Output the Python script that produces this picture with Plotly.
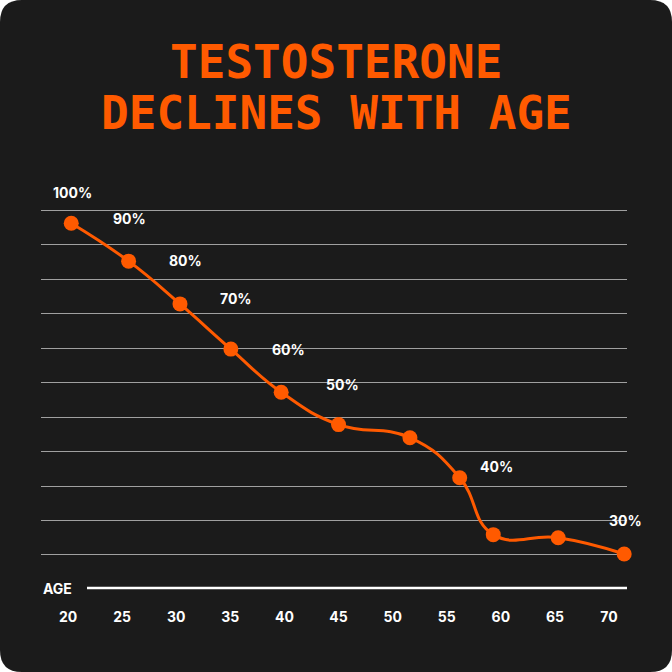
import plotly.graph_objects as go

# testosterone level vs age (relative units)
ages = [20.3, 25.6, 30.35, 35.05, 39.7, 45.0, 51.6, 56.2, 59.3, 65.3, 71.4]
levels = [96.2, 85.2, 72.8, 59.7, 47.2, 37.8, 34.0, 22.4, 5.9, 5.0, 0.3]

# percentage labels and where they sit
label_texts = ["100%", "90%", "80%", "70%", "60%", "50%", "40%", "30%"]
label_ages = [20.45, 25.7, 30.9, 35.5, 40.4, 45.4, 59.6, 71.5]
label_levels = [105.2, 97.7, 85.5, 74.5, 59.7, 49.3, 25.8, 10.1]

age_ticks = [20, 25, 30, 35, 40, 45, 50, 55, 60, 65, 70]

ORANGE = "#ff5a00"
CARD = "#1b1b1b"
W = 672

fig = go.Figure()

fig.add_trace(go.Scatter(
    x=ages, y=levels, mode="lines+markers",
    line=dict(color=ORANGE, width=3, shape="spline", smoothing=1.3),
    marker=dict(color=ORANGE, size=15),
    cliponaxis=False, hoverinfo="skip", showlegend=False,
))

for txt, ax, ay in zip(label_texts, label_ages, label_levels):
    fig.add_annotation(x=ax, y=ay, text=txt, showarrow=False,
                       font=dict(family="Inter", size=14, color="white", weight=700))

# rounded dark card behind everything
r = 22 / W
card = (f"M {r},0 L {1-r},0 Q 1,0 1,{r} L 1,{1-r} Q 1,1 {1-r},1 "
        f"L {r},1 Q 0,1 0,{1-r} L 0,{r} Q 0,0 {r},0 Z")
fig.add_shape(type="path", path=card, xref="paper", yref="paper",
              fillcolor=CARD, line=dict(width=0), layer="below")

# white baseline after the AGE label
fig.add_shape(type="line", xref="paper", yref="paper",
              x0=87 / W, x1=627 / W, y0=1 - 588 / W, y1=1 - 588 / W,
              line=dict(color="white", width=2.5))
fig.add_annotation(xref="paper", yref="paper", x=41 / W, y=1 - 588 / W,
                   xanchor="left", yanchor="middle", text="AGE", showarrow=False,
                   font=dict(family="Inter", size=14, color="white", weight=700))

# title, two lines
for line_txt, py in [("TESTOSTERONE", 62), ("DECLINES WITH AGE", 113)]:
    fig.add_annotation(xref="paper", yref="paper", x=0.5, y=1 - py / W,
                       xanchor="center", yanchor="middle", text=line_txt, showarrow=False,
                       font=dict(family="DejaVu Sans Mono", size=46, color=ORANGE, weight=700))

fig.update_layout(
    width=W, height=W,
    margin=dict(l=0, r=0, t=0, b=0),
    paper_bgcolor="white",
    plot_bgcolor="rgba(0,0,0,0)",
    xaxis=dict(
        domain=[41 / W, 627 / W], range=[17.505, 71.66],
        tickvals=age_ticks, showgrid=False, zeroline=False, showline=False,
        ticks="outside", ticklen=16, tickcolor="rgba(0,0,0,0)",
        tickfont=dict(family="Inter", size=14, color="white", weight=700),
    ),
    yaxis=dict(
        domain=[1 - 588 / W, 1 - 182.5 / W], range=[-9.57, 108],
        tickvals=list(range(0, 101, 10)), showgrid=True, gridcolor="#a0a0a0", gridwidth=1,
        zeroline=False, showticklabels=False, showline=False,
    ),
)

fig.write_html("out.html", config={"displayModeBar": False},
               post_script="document.body.style.margin='0';")
